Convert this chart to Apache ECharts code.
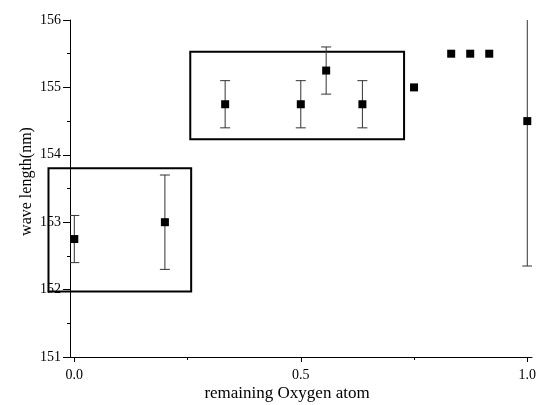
<!DOCTYPE html>
<html><head><meta charset="utf-8">
<script src="https://cdn.jsdelivr.net/npm/echarts@6/dist/echarts.min.js"></script>
<style>html,body{margin:0;padding:0;background:#fff}#c{width:537px;height:405px}</style>
</head><body><div id="c"></div>
<script>
var xValues = [0.0, 0.2, 0.333, 0.5, 0.556, 0.636, 0.75, 0.832, 0.874, 0.916, 1.0];
var yValues = [152.75, 153.0, 154.75, 154.75, 155.25, 154.75, 155.0, 155.5, 155.5, 155.5, 154.5];
var errLow = [152.4, 152.3, 154.4, 154.4, 154.9, 154.4, null, null, null, null, 152.35];
var errHigh = [153.1, 153.7, 155.1, 155.1, 155.6, 155.1, null, null, null, null, 156.65];
var boxes = [[-0.057, 151.97, 0.258, 153.8], [0.256, 154.23, 0.728, 155.53]];
var xTicks = [0, 0.5, 1.0];
var xMinorTicks = [0.25, 0.75];
var yTicks = [151, 152, 153, 154, 155, 156];

var font = 'Liberation Serif';
var pts = xValues.map(function (x, i) { return [x, yValues[i]]; });
var errs = [];
xValues.forEach(function (x, i) { if (errLow[i] != null) errs.push([x, errLow[i], errHigh[i]]); });

var chart = echarts.init(document.getElementById('c'), null, {renderer: 'canvas'});
chart.setOption({
  animation: false,
  backgroundColor: '#fff',
  grid: {left: 70, right: 5, top: 20, bottom: 48, containLabel: false, outerBoundsMode: 'none'},
  xAxis: [{
    type: 'value', min: -0.0095, max: 1.0104,
    splitLine: {show: false},
    axisLine: {onZero: false, lineStyle: {color: '#000', width: 1}},
    axisTick: {customValues: xTicks, length: 5, lineStyle: {color: '#000'}},
    axisLabel: {customValues: xTicks, color: '#000', fontFamily: font, fontSize: 14, margin: 11,
      formatter: function (v) { return v.toFixed(1); }},
    name: 'remaining Oxygen atom', nameLocation: 'middle', nameGap: 28, nameMoveOverlap: false,
    nameTextStyle: {color: '#000', fontFamily: font, fontSize: 17, padding: [0, 28, 0, 0]}
  }, {
    type: 'value', min: -0.0095, max: 1.0104, position: 'bottom',
    splitLine: {show: false}, axisLine: {show: false, onZero: false},
    axisTick: {customValues: xMinorTicks, length: 3, lineStyle: {color: '#000'}},
    axisLabel: {show: false}
  }],
  yAxis: {
    type: 'value', min: 151, max: 156, interval: 1,
    splitLine: {show: false},
    axisLine: {show: true, onZero: false, lineStyle: {color: '#000', width: 1}},
    axisTick: {show: true, length: 7, lineStyle: {color: '#000'}},
    minorTick: {show: true, splitNumber: 2, length: 3, lineStyle: {color: '#000'}},
    axisLabel: {color: '#000', fontFamily: font, fontSize: 14, margin: 9},
    name: 'wave length(nm)', nameLocation: 'middle', nameGap: 35, nameRotate: 90, nameMoveOverlap: false,
    nameTextStyle: {color: '#000', fontFamily: font, fontSize: 16, padding: [0, 0, 0, 14]}
  },
  series: [{
    type: 'custom', clip: false, silent: true,
    data: boxes,
    renderItem: function (params, api) {
      var p1 = api.coord([api.value(0), api.value(3)]);
      var p2 = api.coord([api.value(2), api.value(1)]);
      return {type: 'rect', shape: {x: p1[0], y: p1[1], width: p2[0] - p1[0], height: p2[1] - p1[1]},
        style: {fill: 'none', stroke: '#000', lineWidth: 2}};
    },
    encode: {x: [0, 2], y: [1, 3]}
  }, {
    type: 'custom', clip: true, silent: true,
    data: errs,
    renderItem: function (params, api) {
      var x = api.value(0);
      var lo = api.coord([x, api.value(1)]);
      var hi = api.coord([x, api.value(2)]);
      var w = 5;
      var st = {stroke: '#333', lineWidth: 1};
      return {type: 'group', children: [
        {type: 'line', shape: {x1: lo[0], y1: lo[1], x2: hi[0], y2: hi[1]}, style: st},
        {type: 'line', shape: {x1: lo[0] - w, y1: lo[1], x2: lo[0] + w, y2: lo[1]}, style: st},
        {type: 'line', shape: {x1: hi[0] - w, y1: hi[1], x2: hi[0] + w, y2: hi[1]}, style: st}
      ]};
    },
    encode: {x: 0, y: [1, 2]}
  }, {
    type: 'scatter', data: pts, symbol: 'rect', symbolSize: 8,
    itemStyle: {color: '#000', opacity: 1}, silent: true
  }]
});
</script></body></html>
